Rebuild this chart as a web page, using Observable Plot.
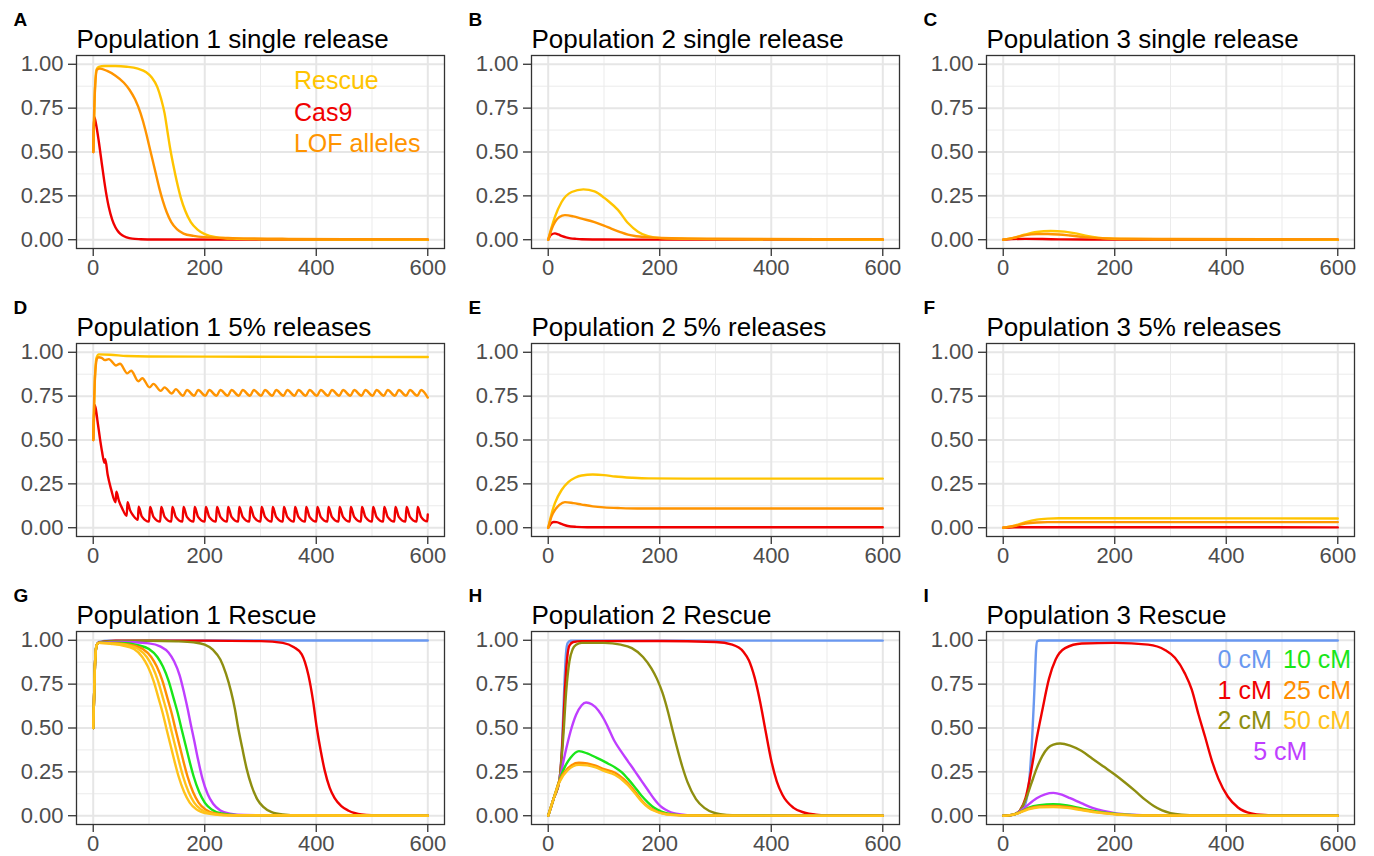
<!DOCTYPE html>
<html><head><meta charset="utf-8">
<script src="https://cdn.jsdelivr.net/npm/d3@7"></script>
<script src="https://cdn.jsdelivr.net/npm/@observablehq/plot@0.6"></script>
<style>
html,body{margin:0;padding:0;background:#fff;width:1374px;height:856px;overflow:hidden;font-family:"Liberation Sans",Arial,sans-serif;}
#root{position:relative;width:1374px;height:856px;overflow:hidden;}
.panel{position:absolute;}
</style></head><body><div id="root"></div>
<script>
// ---- axis ticks / grid ----
const xMajor = [0, 200, 400, 600];
const xMinor = [100, 300, 500];
const yMajor = [0, 0.25, 0.5, 0.75, 1];
const yMinor = [0.125, 0.375, 0.625, 0.875];
const xTickLabels = ["0", "200", "400", "600"];
const yTickLabels = ["0.00", "0.25", "0.50", "0.75", "1.00"];

// ---- colours ----
const cRescue = "#FFC400", cCas9 = "#F00000", cLOF = "#FF9400";
const c0 = "#6A98F0", c1 = "#F00000", c2 = "#8E8E10", c5 = "#BF3EFF", c10 = "#19E619", c25 = "#FF8E00", c50 = "#FFC21A";

// ---- Panel A: Population 1 single release ----
const A_cas9 = [[0,0.5],[2,0.7],[5,0.66],[10,0.56],[16,0.42],[20,0.33],[24,0.25],[28,0.185],[34,0.115],[40,0.07],[46,0.042],[52,0.025],[60,0.013],[70,0.006],[85,0.003],[110,0.001],[600,0]];
const A_rescue = [[0,0.5],[3,0.85],[6,0.97],[10,0.985],[20,0.99],[40,0.99],[60,0.986],[80,0.975],[95,0.955],[105,0.925],[115,0.87],[122,0.8],[128,0.72],[133,0.62],[138,0.52],[144,0.42],[150,0.33],[157,0.24],[165,0.165],[175,0.1],[187,0.058],[200,0.032],[220,0.014],[250,0.006],[300,0.003],[400,0.001],[600,0]];
const A_lof = [[0,0.5],[3,0.85],[7,0.97],[12,0.975],[25,0.962],[40,0.935],[55,0.895],[65,0.855],[75,0.8],[85,0.72],[94,0.62],[100,0.54],[106,0.46],[112,0.38],[118,0.3],[125,0.22],[132,0.155],[140,0.1],[150,0.06],[162,0.035],[180,0.022],[200,0.015],[250,0.009],[350,0.005],[600,0.002]];

// ---- Panel B: Population 2 single release ----
const B_cas9 = [[0,0],[5,0.028],[12,0.036],[18,0.03],[25,0.02],[32,0.013],[40,0.008],[50,0.005],[60,0.003],[100,0.001],[600,0]];
const B_rescue = [[0,0],[6,0.07],[12,0.13],[24,0.215],[42,0.272],[63,0.287],[83,0.275],[100,0.24],[107,0.222],[125,0.17],[143,0.095],[161,0.046],[179,0.02],[203,0.009],[250,0.005],[350,0.002],[600,0]];
const B_lof = [[0,0],[6,0.06],[12,0.1],[20,0.13],[30,0.14],[45,0.133],[60,0.12],[83,0.1],[100,0.08],[113,0.063],[128,0.045],[143,0.029],[158,0.02],[175,0.015],[203,0.01],[300,0.006],[600,0.003]];

// ---- Panel C: Population 3 single release ----
const C_cas9 = [[0,0],[15,0.004],[40,0.005],[70,0.004],[100,0.002],[150,0.001],[600,0]];
const C_rescue = [[0,0],[20,0.012],[40,0.03],[60,0.044],[85,0.05],[110,0.046],[130,0.036],[150,0.022],[170,0.012],[190,0.007],[220,0.004],[300,0.002],[600,0]];
const C_lof = [[0,0],[20,0.012],[40,0.026],[60,0.032],[80,0.033],[100,0.03],[120,0.024],[145,0.015],[170,0.009],[200,0.006],[300,0.004],[600,0.002]];

// ---- Panel D: Population 1 5% releases ----
const D_cas9 = [[0,0.5],[3,0.7],[8,0.6],[12,0.51],[16,0.43],[20,0.37],[21.5,0.39],[26,0.3],[32,0.22],[40,0.145],[41.5,0.205],[46,0.155],[52,0.11],[60,0.068],[61.5,0.145],[66,0.1],[72,0.068],[80,0.045],[81.5,0.12],[87,0.065],
 [100,0.035],[102,0.118],[108,0.062],[120,0.035],[122,0.118],[128,0.062],[140,0.035],[142,0.118],[148,0.062],[160,0.035],[162,0.118],[168,0.062],
 [180,0.035],[182,0.118],[188,0.062],[200,0.035],[202,0.118],[208,0.062],[220,0.035],[222,0.118],[228,0.062],[240,0.035],[242,0.118],[248,0.062],
 [260,0.035],[262,0.118],[268,0.062],[280,0.035],[282,0.118],[288,0.062],[300,0.035],[302,0.118],[308,0.062],[320,0.035],[322,0.118],[328,0.062],
 [340,0.035],[342,0.118],[348,0.062],[360,0.035],[362,0.118],[368,0.062],[380,0.035],[382,0.118],[388,0.062],[400,0.035],[402,0.118],[408,0.062],
 [420,0.035],[422,0.118],[428,0.062],[440,0.035],[442,0.118],[448,0.062],[460,0.035],[462,0.118],[468,0.062],[480,0.035],[482,0.118],[488,0.062],
 [500,0.035],[502,0.118],[508,0.062],[520,0.035],[522,0.118],[528,0.062],[540,0.035],[542,0.118],[548,0.062],[560,0.035],[562,0.118],[568,0.062],
 [580,0.035],[582,0.118],[588,0.062],[599,0.036],[600,0.075]];
const D_rescue = [[0,0.5],[3,0.85],[6,0.97],[10,0.988],[30,0.986],[60,0.979],[100,0.976],[200,0.975],[600,0.973]];
const D_lof = [[0,0.5],[3,0.85],[7,0.965],[10,0.972],[15,0.968],[21,0.955],[28,0.961],[41,0.925],[48,0.935],[61,0.88],[68,0.895],[81,0.835],[88,0.852],[101,0.8],[108,0.82],[121,0.78],[128,0.8],[141,0.765],[148,0.79],
 [161,0.752],[168,0.785],[181,0.752],[188,0.785],[201,0.752],[208,0.785],[221,0.752],[228,0.785],[241,0.752],[248,0.785],[261,0.752],[268,0.785],
 [281,0.752],[288,0.785],[301,0.752],[308,0.785],[321,0.752],[328,0.785],[341,0.752],[348,0.785],[361,0.752],[368,0.785],[381,0.752],[388,0.785],
 [401,0.752],[408,0.785],[421,0.752],[428,0.785],[441,0.752],[448,0.785],[461,0.752],[468,0.785],[481,0.752],[488,0.785],[501,0.752],[508,0.785],
 [521,0.752],[528,0.785],[541,0.752],[548,0.785],[561,0.752],[568,0.785],[581,0.752],[588,0.785],[600,0.742]];

// ---- Panel E: Population 2 5% releases ----
const E_cas9 = [[0,0],[5,0.025],[10,0.033],[15,0.032],[25,0.02],[35,0.01],[50,0.005],[70,0.003],[600,0.003]];
const E_rescue = [[0,0],[6,0.08],[12,0.14],[24,0.215],[36,0.26],[48,0.285],[60,0.298],[80,0.303],[100,0.3],[120,0.292],[150,0.285],[180,0.281],[250,0.28],[600,0.28]];
const E_lof = [[0,0],[6,0.065],[12,0.1],[20,0.13],[30,0.146],[45,0.14],[60,0.132],[80,0.122],[100,0.116],[130,0.112],[160,0.11],[600,0.11]];

// ---- Panel F: Population 3 5% releases ----
const F_cas9 = [[0,0],[20,0.003],[50,0.003],[600,0.002]];
const F_rescue = [[0,0],[20,0.012],[40,0.032],[60,0.046],[80,0.052],[100,0.054],[150,0.054],[600,0.053]];
const F_lof = [[0,0],[20,0.01],[40,0.024],[60,0.03],[80,0.032],[100,0.032],[600,0.032]];

// ---- Panel G: Population 1 Rescue (recombination distance) ----
const G_0 = [[0,0.5],[3,0.85],[6,0.97],[10,0.99],[30,0.998],[600,0.999]];
const G_1 = [[0,0.5],[3,0.85],[6,0.97],[10,0.988],[40,0.997],[200,0.998],[300,0.995],[340,0.985],[360,0.96],[374,0.92],[386,0.8],[394,0.66],[401,0.5],[408,0.37],[415,0.26],[424,0.16],[433,0.1],[445,0.055],[457,0.03],[470,0.014],[481,0.007],[500,0.003],[600,0]];
const G_2 = [[0,0.5],[3,0.85],[6,0.97],[10,0.985],[30,0.995],[100,0.997],[150,0.994],[180,0.988],[200,0.975],[215,0.945],[228,0.89],[238,0.81],[247,0.71],[254,0.61],[260,0.5],[267,0.39],[275,0.27],[284,0.17],[294,0.095],[305,0.05],[320,0.02],[340,0.007],[370,0.002],[600,0]];
const G_5 = [[0,0.5],[3,0.85],[6,0.97],[10,0.985],[50,0.99],[100,0.982],[120,0.965],[135,0.93],[145,0.88],[155,0.8],[163,0.7],[170,0.6],[175,0.52],[181,0.43],[188,0.32],[196,0.21],[205,0.125],[215,0.068],[228,0.03],[245,0.012],[270,0.004],[600,0]];
const G_10 = [[0,0.5],[3,0.85],[6,0.97],[10,0.985],[50,0.985],[80,0.972],[100,0.95],[115,0.905],[125,0.85],[135,0.77],[145,0.66],[152,0.58],[158,0.5],[165,0.41],[172,0.32],[180,0.225],[190,0.135],[200,0.075],[212,0.036],[230,0.013],[260,0.003],[600,0]];
const G_25 = [[0,0.5],[3,0.85],[6,0.97],[10,0.985],[40,0.982],[69,0.972],[89,0.95],[104,0.905],[114,0.85],[124,0.77],[134,0.66],[141,0.58],[147,0.5],[154,0.41],[161,0.32],[169,0.225],[179,0.135],[189,0.075],[201,0.036],[219,0.013],[249,0.003],[600,0]];
const G_50 = [[0,0.5],[3,0.85],[6,0.97],[10,0.985],[40,0.98],[61,0.972],[81,0.95],[96,0.905],[106,0.85],[116,0.77],[126,0.66],[133,0.58],[139,0.5],[146,0.41],[153,0.32],[161,0.225],[171,0.135],[181,0.075],[193,0.036],[211,0.013],[241,0.003],[600,0]];
const G_50b = [[0,0.5],[3,0.85],[6,0.97],[10,0.985],[35,0.978],[53,0.97],[73,0.95],[88,0.905],[98,0.85],[108,0.77],[118,0.66],[125,0.58],[131,0.5],[138,0.41],[145,0.32],[153,0.225],[163,0.135],[173,0.075],[185,0.036],[203,0.013],[233,0.003],[600,0]];

// ---- Panel H: Population 2 Rescue ----
const H_0 = [[0,0],[10,0.1],[20,0.2],[25,0.42],[29,0.75],[32,0.93],[35,0.985],[40,0.997],[600,0.998]];
const H_1 = [[0,0],[10,0.1],[20,0.2],[26,0.45],[30,0.72],[34,0.9],[38,0.97],[45,0.99],[60,0.995],[200,0.996],[300,0.99],[330,0.975],[350,0.935],[360,0.885],[370,0.79],[380,0.65],[390,0.48],[400,0.315],[410,0.195],[420,0.12],[440,0.045],[460,0.017],[480,0.006],[500,0.002],[600,0]];
const H_2 = [[0,0],[10,0.1],[20,0.2],[27,0.45],[32,0.7],[38,0.88],[44,0.95],[50,0.975],[60,0.985],[100,0.985],[130,0.975],[150,0.955],[170,0.905],[185,0.84],[195,0.78],[205,0.7],[215,0.59],[222,0.5],[230,0.4],[240,0.285],[250,0.19],[265,0.095],[280,0.045],[300,0.014],[320,0.005],[360,0.001],[600,0]];
const H_5 = [[0,0],[10,0.1],[20,0.2],[30,0.35],[40,0.48],[50,0.575],[60,0.63],[68,0.645],[78,0.635],[90,0.6],[100,0.55],[107,0.505],[118,0.43],[131,0.365],[143,0.31],[155,0.256],[167,0.2],[179,0.145],[190,0.095],[197,0.068],[205,0.045],[215,0.027],[225,0.015],[238,0.008],[260,0.003],[600,0]];
const H_10 = [[0,0],[10,0.1],[20,0.2],[30,0.28],[40,0.33],[55,0.368],[70,0.355],[83,0.336],[100,0.31],[107,0.298],[120,0.275],[131,0.25],[143,0.21],[155,0.164],[167,0.115],[179,0.075],[190,0.045],[203,0.024],[220,0.009],[250,0.002],[600,0]];
const H_25 = [[0,0],[10,0.1],[20,0.2],[35,0.27],[55,0.302],[70,0.298],[85,0.285],[100,0.265],[120,0.245],[135,0.21],[143,0.185],[155,0.14],[167,0.09],[180,0.05],[191,0.03],[205,0.014],[225,0.005],[260,0.001],[600,0]];
const H_50 = [[0,0],[10,0.1],[20,0.19],[35,0.26],[55,0.29],[70,0.287],[85,0.275],[100,0.255],[120,0.232],[135,0.198],[143,0.174],[155,0.13],[167,0.083],[180,0.046],[191,0.027],[205,0.012],[225,0.004],[260,0.001],[600,0]];

// ---- Panel I: Population 3 Rescue ----
const I_0 = [[0,0],[10,0.002],[20,0.008],[30,0.02],[35,0.035],[40,0.07],[45,0.15],[48,0.25],[52,0.45],[55,0.65],[57,0.8],[59,0.95],[61,0.995],[65,0.999],[600,0.999]];
const I_1 = [[0,0],[10,0.002],[20,0.008],[30,0.03],[40,0.1],[52,0.29],[60,0.44],[70,0.6],[82,0.78],[94,0.89],[111,0.955],[141,0.982],[200,0.985],[260,0.975],[290,0.945],[308,0.9],[326,0.81],[338,0.72],[350,0.58],[362,0.45],[374,0.316],[386,0.21],[403,0.108],[421,0.047],[445,0.013],[469,0.004],[500,0.001],[600,0]];
const I_2 = [[0,0],[10,0.002],[20,0.008],[30,0.03],[40,0.09],[50,0.18],[60,0.27],[70,0.34],[80,0.385],[90,0.405],[102,0.412],[120,0.4],[140,0.37],[160,0.325],[180,0.28],[200,0.235],[220,0.185],[237,0.14],[255,0.09],[270,0.055],[285,0.03],[300,0.015],[320,0.006],[350,0.002],[600,0]];
const I_5 = [[0,0],[10,0.002],[20,0.008],[30,0.025],[40,0.05],[60,0.1],[75,0.122],[90,0.13],[105,0.12],[120,0.1],[140,0.072],[160,0.045],[180,0.027],[200,0.015],[230,0.006],[270,0.002],[600,0]];
const I_10 = [[0,0],[10,0.002],[20,0.008],[30,0.02],[45,0.045],[65,0.06],[90,0.065],[115,0.058],[140,0.042],[165,0.026],[190,0.014],[220,0.006],[260,0.002],[600,0]];
const I_25 = [[0,0],[10,0.002],[20,0.008],[30,0.02],[45,0.04],[65,0.053],[90,0.056],[115,0.05],[140,0.036],[165,0.022],[190,0.012],[220,0.005],[260,0.001],[600,0]];
const I_50 = [[0,0],[10,0.002],[20,0.008],[30,0.018],[45,0.036],[65,0.048],[90,0.05],[115,0.045],[140,0.032],[165,0.02],[190,0.011],[220,0.004],[260,0.001],[600,0]];

// ---- in-panel legend labels ----
const releaseLabels = [
  {x: 360, y: 0.905, text: "Rescue", color: cRescue},
  {x: 360, y: 0.725, text: "Cas9", color: cCas9},
  {x: 360, y: 0.547, text: "LOF alleles", color: cLOF}
];
const cmLabels = [
  {x: 433, y: 0.888, text: "0 cM", color: c0},
  {x: 563, y: 0.888, text: "10 cM", color: c10},
  {x: 433, y: 0.713, text: "1 cM", color: c1},
  {x: 563, y: 0.713, text: "25 cM", color: c25},
  {x: 433, y: 0.539, text: "2 cM", color: c2},
  {x: 563, y: 0.539, text: "50 cM", color: c50},
  {x: 497, y: 0.363, text: "5 cM", color: c5}
];

const relSeries = (cas, res, lof) => [
  {data: cas, color: cCas9}, {data: res, color: cRescue}, {data: lof, color: cLOF}
];

const panels = [
  {letter: "A", title: "Population 1 single release", col: 0, row: 0, series: relSeries(A_cas9, A_rescue, A_lof), labels: releaseLabels, anchor: "start"},
  {letter: "B", title: "Population 2 single release", col: 1, row: 0, series: relSeries(B_cas9, B_rescue, B_lof)},
  {letter: "C", title: "Population 3 single release", col: 2, row: 0, series: relSeries(C_cas9, C_rescue, C_lof)},
  {letter: "D", title: "Population 1 5% releases", col: 0, row: 1, series: relSeries(D_cas9, D_rescue, D_lof)},
  {letter: "E", title: "Population 2 5% releases", col: 1, row: 1, series: relSeries(E_cas9, E_rescue, E_lof)},
  {letter: "F", title: "Population 3 5% releases", col: 2, row: 1, series: relSeries(F_cas9, F_rescue, F_lof)},
  {letter: "G", title: "Population 1 Rescue", col: 0, row: 2, series: [
    {data: G_0, color: c0}, {data: G_1, color: c1}, {data: G_2, color: c2}, {data: G_5, color: c5},
    {data: G_10, color: c10}, {data: G_25, color: c25}, {data: G_50, color: c50}, {data: G_50b, color: c50}]},
  {letter: "H", title: "Population 2 Rescue", col: 1, row: 2, series: [
    {data: H_0, color: c0}, {data: H_1, color: c1}, {data: H_2, color: c2}, {data: H_5, color: c5},
    {data: H_10, color: c10}, {data: H_25, color: c25}, {data: H_50, color: c50}]},
  {letter: "I", title: "Population 3 Rescue", col: 2, row: 2, series: [
    {data: I_0, color: c0}, {data: I_1, color: c1}, {data: I_2, color: c2}, {data: I_5, color: c5},
    {data: I_10, color: c10}, {data: I_25, color: c25}, {data: I_50, color: c50}], labels: cmLabels, anchor: "middle"}
];

const colLeft = [0, 455, 910];
const rowTop = [0, 288, 576];
const FONT = "'Liberation Sans', Arial, Helvetica, sans-serif";
const TICK_FONT = 22;

function makePanel(p) {
  const marks = [
    Plot.ruleX(xMinor, {stroke: "#EBEBEB", strokeWidth: 1}),
    Plot.ruleY(yMinor, {stroke: "#EBEBEB", strokeWidth: 1}),
    Plot.ruleX(xMajor, {stroke: "#E6E6E6", strokeWidth: 2}),
    Plot.ruleY(yMajor, {stroke: "#E6E6E6", strokeWidth: 2}),
    ...p.series.map(s => Plot.line(s.data, {x: d => d[0], y: d => d[1], stroke: s.color, strokeWidth: 2.4, curve: "monotone-x"})),
    ...(p.labels || []).map(l => Plot.text([l], {x: "x", y: "y", text: "text", fill: l.color, fontSize: 25, textAnchor: p.anchor})),
    Plot.frame({stroke: "#333333", strokeWidth: 1.3}),
    Plot.axisX({ticks: xMajor, tickSize: 8, tickFormat: () => "", stroke: "#333333", strokeWidth: 1.3, label: null}),
    Plot.axisY({ticks: yMajor, tickSize: 8, tickFormat: () => "", stroke: "#333333", strokeWidth: 1.3, label: null}),
    Plot.text(xMajor, {x: d => d, text: (d, i) => xTickLabels[i], frameAnchor: "bottom", lineAnchor: "top", dy: 11, fontSize: TICK_FONT, fill: "#4D4D4D", className: "tick-lbl"}),
    Plot.text(yMajor, {y: d => d, text: (d, i) => yTickLabels[i], frameAnchor: "left", textAnchor: "end", dx: -13, fontSize: TICK_FONT, fill: "#4D4D4D", className: "tick-lbl"}),
    Plot.text([p.title], {text: d => d, frameAnchor: "top-left", textAnchor: "start", lineAnchor: "bottom", dy: -8, fontSize: 26, fill: "#000"}),
    Plot.text([p.letter], {text: d => d, frameAnchor: "top-left", textAnchor: "start", lineAnchor: "bottom", dx: -63, dy: -30, fontSize: 19, fontWeight: "bold", fill: "#000", className: "panel-letter"})
  ];
  const svg = Plot.plot({
    width: 460, height: 290,
    marginLeft: 76, marginRight: 16, marginTop: 55, marginBottom: 42,
    x: {domain: [-30, 630], label: null},
    y: {domain: [-0.05, 1.05], label: null},
    style: {fontFamily: FONT, background: "transparent", overflow: "visible"},
    marks
  });
  // force the sizes on the text nodes themselves
  d3.select(svg).selectAll("text").each(function() {
    const t = this.textContent;
    if (xTickLabels.includes(t) || yTickLabels.includes(t)) this.style.fontSize = TICK_FONT + "px";
    if (t === p.letter) { this.style.fontSize = "19px"; this.style.fontWeight = "bold"; }
  });
  return svg;
}

const root = document.getElementById("root");
for (const p of panels) {
  const div = document.createElement("div");
  div.className = "panel";
  div.style.left = colLeft[p.col] + "px";
  div.style.top = rowTop[p.row] + "px";
  div.appendChild(makePanel(p));
  root.appendChild(div);
}
</script></body></html>
